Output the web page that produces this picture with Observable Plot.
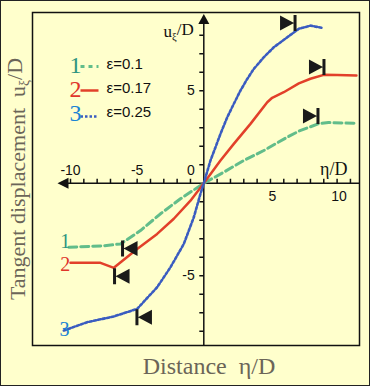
<!DOCTYPE html>
<html><head><meta charset="utf-8">
<script src="https://cdn.jsdelivr.net/npm/d3@7"></script>
<script src="https://cdn.jsdelivr.net/npm/@observablehq/plot@0.6"></script>
<style>
html,body{margin:0;padding:0;background:#FFFFCC;}
#wrap{position:relative;width:370px;height:386px;overflow:hidden;}
#wrap:after{content:"";position:absolute;left:0;top:0;right:0;bottom:0;border:1.5px solid #222;pointer-events:none;}
</style></head><body><div id="wrap"></div>
<script>
// ---- data ----
const seriesNames = ["1", "2", "3"];
const epsLabels = ["ε=0.1", "ε=0.17", "ε=0.25"];
const lineColors = ["#62bd8a", "#e2402a", "#3a5cc0"];
const labelColors = ["#2f9480", "#e0352a", "#1a84d4"];

const curve1X = [-10.13, -7.5, -6.25, -4.75, -3.25, -1.75, 0, 1.5, 3.0, 4.5, 6.26, 7.13, 8.63, 9.35, 11.45];
const curve1Y = [-3.46, -3.38, -3.28, -2.56, -1.65, -0.84, 0, 0.6, 1.23, 1.77, 2.49, 2.82, 3.22, 3.28, 3.24];

const curve2X = [-10.0, -7.75, -6.75, -5.0, -3.5, -2.25, -1.0, 0, 1.25, 2.25, 3.5, 4.76, 5.13, 6.0, 7.13, 8.0, 9.0, 10.0, 11.45];
const curve2Y = [-4.3, -4.3, -4.57, -3.55, -2.74, -1.92, -0.94, 0, 1.23, 2.13, 3.21, 4.38, 4.62, 4.92, 5.4, 5.65, 5.86, 5.85, 5.82];

const curve3X = [-10.5, -8.75, -6.75, -5.0, -3.5, -2.5, -1.5, -0.75, -0.25, 0, 0.13, 0.5, 0.88, 1.25, 1.76, 2.25, 2.75, 3.26, 3.75, 4.5, 5.25, 6.26, 7.13, 8.0, 8.88];
const curve3Y = [-7.96, -7.51, -7.2, -6.79, -5.62, -4.54, -3.28, -1.84, -0.57, 0, 0.32, 1.23, 1.95, 2.67, 3.57, 4.29, 5.01, 5.64, 6.18, 6.81, 7.35, 7.89, 8.35, 8.52, 8.4];

const endLabelX = [-10.4, -10.4, -10.45];
const endLabelY = [-3.15, -4.4, -7.9];

const markerX = [6.32, 8.49, 8.04, -5.57, -6.17, -4.49];
const markerY = [8.66, 6.29, 3.63, -3.53, -5.02, -7.24];
const markerDir = ["right", "right", "right", "left", "left", "left"];

const xTicks = d3.range(-10, 12);
const yTicks = d3.range(-8, 9).filter(d => d !== 0);
const xLabelsAbove = [-10, -5];
const xLabelsBelow = [5, 10];
const yLabels = [5, -5];

const xTitle = "Distance  η/D";
const yTitle = "Tangent displacement  uξ/D";
const yAxisName = "uξ/D";
const xAxisName = "η/D";

// ---- layout ----
const xDomain = [-12.85, 11.68];
const yDomain = [-8.77, 9.23];
const axisXStart = -10.56;
const axisYEnd = 8.88;
const serif = "'Liberation Serif','DejaVu Serif',serif";
const sans = "'Liberation Sans','DejaVu Sans',sans-serif";

const curves = [
  {x: curve1X, y: curve1Y, dash: "8,4", w: 3},
  {x: curve2X, y: curve2Y, dash: null, w: 2.5},
  {x: curve3X, y: curve3Y, dash: "2.5,2", w: 2.6}
].map((c, i) => ({...c, rows: c.x.map((v, j) => ({x: v, y: c.y[j]})), color: lineColors[i]}));

// custom symbols
const markRight = {draw(c) {
  c.moveTo(-8, -7.5); c.lineTo(6, 0); c.lineTo(-8, 7.5); c.closePath();
  c.moveTo(5.5, -8); c.lineTo(8.5, -8); c.lineTo(8.5, 8); c.lineTo(5.5, 8); c.closePath();
}};
const markLeft = {draw(c) {
  c.moveTo(8, -7.5); c.lineTo(-6, 0); c.lineTo(8, 7.5); c.closePath();
  c.moveTo(-5.5, -8); c.lineTo(-8.5, -8); c.lineTo(-8.5, 8); c.lineTo(-5.5, 8); c.closePath();
}};
const tickUp = {draw(c) { c.moveTo(0, 0); c.lineTo(0, -4.5); }};
const tickLeft = {draw(c) { c.moveTo(0, 0); c.lineTo(-4.5, 0); }};
const arrowLeft = {draw(c) { c.moveTo(-5.5, 0); c.lineTo(5.5, -5.5); c.lineTo(5.5, 5.5); c.closePath(); }};
const arrowUp = {draw(c) { c.moveTo(0, -5); c.lineTo(-5.5, 5); c.lineTo(5.5, 5); c.closePath(); }};

const markers = markerX.map((x, i) => ({x, y: markerY[i], dir: markerDir[i]}));

const legendMarks = seriesNames.flatMap((n, i) => {
  const dy = 53 + i * 24;
  return [
    Plot.text([n], {frameAnchor: "top-left", dx: 43, dy, text: d => d, textAnchor: "middle", lineAnchor: "middle", fill: labelColors[i], fontFamily: serif, fontSize: 24}),
    Plot.dot([0], {frameAnchor: "top-left", dx: 57, dy: dy + 1 + (i === 2 ? 2 : 0), symbol: {draw(c) { c.moveTo(-9, 0); c.lineTo(9, 0); }},
      fill: "none", stroke: lineColors[i], strokeWidth: curves[i].w, strokeDasharray: i === 0 ? "4,4" : i === 2 ? "2.5,2" : null}),
    Plot.text([epsLabels[i]], {frameAnchor: "top-left", dx: 74, dy: dy - 1, text: d => d, textAnchor: "start", lineAnchor: "middle", fill: "#111", fontFamily: sans, fontSize: 15})
  ];
});

const chart = Plot.plot({
  width: 370,
  height: 386,
  marginLeft: 32,
  marginRight: 11,
  marginTop: 12,
  marginBottom: 41,
  style: {background: "#FFFFCC", overflow: "visible"},
  x: {domain: xDomain, axis: null},
  y: {domain: yDomain, axis: null},
  marks: [
    Plot.frame({stroke: "#111", strokeWidth: 1.5}),
    // axes
    Plot.ruleY([0], {x1: axisXStart, x2: xDomain[1], stroke: "#111", strokeWidth: 1.5}),
    Plot.ruleX([0], {y1: yDomain[0], y2: axisYEnd, stroke: "#111", strokeWidth: 1.5}),
    Plot.dot(xTicks, {x: d => d, y: 0, symbol: tickUp, fill: "none", stroke: "#111", strokeWidth: 1.5}),
    Plot.dot(yTicks, {x: 0, y: d => d, symbol: tickLeft, fill: "none", stroke: "#111", strokeWidth: 1.5}),
    Plot.dot([axisXStart], {x: d => d, y: 0, symbol: arrowLeft, fill: "#111", stroke: "none"}),
    Plot.dot([axisYEnd], {x: 0, y: d => d, symbol: arrowUp, fill: "#111", stroke: "none"}),
    Plot.text(xLabelsAbove, {x: d => d, y: 0, text: d => String(d), dy: -13, fontFamily: sans, fontSize: 14, fill: "#111"}),
    Plot.text([0], {x: d => d, y: 0, text: d => String(d), dx: -13, dy: -13, fontFamily: sans, fontSize: 14, fill: "#111"}),
    Plot.text(xLabelsBelow, {x: d => d, y: 0, text: d => String(d), dx: 2, dy: 13, fontFamily: sans, fontSize: 14, fill: "#111"}),
    Plot.text(yLabels, {x: 0, y: d => d, text: d => String(d), dx: -9, textAnchor: "end", fontFamily: sans, fontSize: 14, fill: "#111"}),
    Plot.text([yAxisName], {x: 0, y: yDomain[1], text: d => d, dx: -10, dy: 19, textAnchor: "end", fontFamily: serif, fontSize: 17, fill: "#111"}),
    Plot.text([xAxisName], {x: xDomain[1], y: 0, text: d => d, dx: -12, dy: -14, textAnchor: "end", fontFamily: serif, fontSize: 18, fill: "#111"}),
    // curves
    ...curves.map(c => Plot.line(c.rows, {x: "x", y: "y", stroke: c.color, strokeWidth: c.w, strokeDasharray: c.dash, curve: "linear"})),
    // markers
    Plot.dot(markers.filter(d => d.dir === "right"), {x: "x", y: "y", symbol: markRight, fill: "#1a1a1a", stroke: "none"}),
    Plot.dot(markers.filter(d => d.dir === "left"), {x: "x", y: "y", symbol: markLeft, fill: "#1a1a1a", stroke: "none"}),
    // curve end labels
    Plot.text(seriesNames, {x: (d, i) => endLabelX[i], y: (d, i) => endLabelY[i], text: d => d, fill: (d, i) => labelColors[i], fontFamily: serif, fontSize: 20}),
    // legend
    ...legendMarks,
    // titles
    Plot.text([xTitle], {frameAnchor: "bottom", dx: 13, dy: 21, text: d => d, textAnchor: "middle", lineAnchor: "middle", fontFamily: serif, fontSize: 24, fill: "#6b6558"}),
    Plot.text([yTitle], {frameAnchor: "left", dx: -15, rotate: -90, text: d => d, textAnchor: "middle", lineAnchor: "middle", fontFamily: serif, fontSize: 22, fill: "#6b6558"})
  ]
});

// render ξ as a subscript
const ns = "http://www.w3.org/2000/svg";
chart.querySelectorAll("text").forEach(t => {
  const s = t.textContent;
  const i = s.indexOf("ξ");
  if (i < 0) return;
  while (t.firstChild) t.removeChild(t.firstChild);
  const a = document.createElementNS(ns, "tspan"); a.textContent = s.slice(0, i);
  const b = document.createElementNS(ns, "tspan"); b.textContent = "ξ";
  b.setAttribute("dy", "0.3em"); b.setAttribute("font-size", "62%");
  const c = document.createElementNS(ns, "tspan"); c.textContent = s.slice(i + 1);
  c.setAttribute("dy", "-0.3em");
  t.append(a, b, c);
});

document.getElementById("wrap").appendChild(chart);
</script></body></html>
